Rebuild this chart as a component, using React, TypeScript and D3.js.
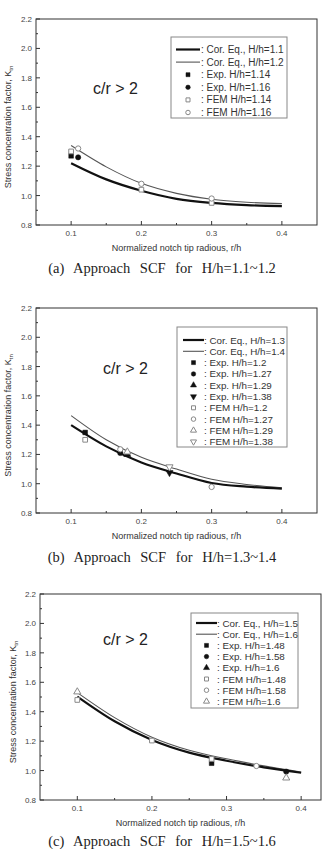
import React from "react";
import * as d3 from "d3";

// shared axis ticks
const xTicks = [0.1, 0.2, 0.3, 0.4];
const xMinor = [0.15, 0.25, 0.35];
const yTicks = [0.8, 1.0, 1.2, 1.4, 1.6, 1.8, 2.0, 2.2];
const yMinor = [0.9, 1.1, 1.3, 1.5, 1.7, 1.9, 2.1];
const curveX = [0.1, 0.15, 0.2, 0.25, 0.3, 0.35, 0.4];

// (a) H/h = 1.1 ~ 1.2
const aCorThick = [1.22, 1.11, 1.033, 0.978, 0.95, 0.935, 0.928];
const aCorThin = [1.34, 1.195, 1.083, 1.015, 0.975, 0.955, 0.945];
const aExp114: [number, number][] = [[0.1, 1.27]];
const aExp116: [number, number][] = [[0.11, 1.26]];
const aFem114: [number, number][] = [[0.1, 1.3], [0.2, 1.04], [0.3, 0.95]];
const aFem116: [number, number][] = [[0.11, 1.32], [0.2, 1.08], [0.3, 0.98]];
const aLabels = [": Cor. Eq., H/h=1.1", ": Cor. Eq., H/h=1.2", ": Exp. H/h=1.14", ": Exp. H/h=1.16", ": FEM H/h=1.14", ": FEM H/h=1.16"];

// (b) H/h = 1.3 ~ 1.4
const bCorThick = [1.4, 1.255, 1.145, 1.07, 1.005, 0.98, 0.967];
const bCorThin = [1.465, 1.3, 1.18, 1.1, 1.03, 0.995, 0.972];
const bExp12: [number, number][] = [[0.12, 1.35]];
const bExp127: [number, number][] = [[0.17, 1.21]];
const bExp129: [number, number][] = [[0.18, 1.2]];
const bExp138: [number, number][] = [[0.24, 1.076]];
const bFem12: [number, number][] = [[0.12, 1.3]];
const bFem127: [number, number][] = [[0.17, 1.235], [0.3, 0.978]];
const bFem129: [number, number][] = [[0.18, 1.217]];
const bFem138: [number, number][] = [[0.24, 1.115]];
const bLabels = [": Cor. Eq., H/h=1.3", ": Cor. Eq., H/h=1.4", ": Exp. H/h=1.2", ": Exp. H/h=1.27", ": Exp. H/h=1.29", ": Exp. H/h=1.38", ": FEM H/h=1.2", ": FEM H/h=1.27", ": FEM H/h=1.29", ": FEM H/h=1.38"];

// (c) H/h = 1.5 ~ 1.6
const cCorThick = [1.503, 1.335, 1.208, 1.122, 1.067, 1.022, 0.985];
const cCorThin = [1.53, 1.36, 1.227, 1.138, 1.08, 1.032, 0.99];
const cExp148: [number, number][] = [[0.28, 1.05]];
const cExp158: [number, number][] = [[0.38, 0.993]];
const cExp16: [number, number][] = [];
const cFem148: [number, number][] = [[0.1, 1.48], [0.2, 1.204], [0.28, 1.079]];
const cFem158: [number, number][] = [[0.34, 1.031]];
const cFem16: [number, number][] = [[0.1, 1.535], [0.38, 0.95]];
const cLabels = [": Cor. Eq., H/h=1.5", ": Cor. Eq., H/h=1.6", ": Exp. H/h=1.48", ": Exp. H/h=1.58", ": Exp. H/h=1.6", ": FEM H/h=1.48", ": FEM H/h=1.58", ": FEM H/h=1.6"];

const captions = ["(a) Approach SCF for H/h=1.1~1.2", "(b) Approach SCF for H/h=1.3~1.4", "(c) Approach SCF for H/h=1.5~1.6"];

type Shape = "square" | "circle" | "triangle" | "down";
type PointSeries = { pts: [number, number][]; shape: Shape; filled: boolean };

const SANS = "Arial, 'Liberation Sans', Helvetica, sans-serif";
const INK = "#333";

const symbolPath = (shape: Shape, size: number) => {
  const type = shape === "square" ? d3.symbolSquare : shape === "circle" ? d3.symbolCircle : d3.symbolTriangle;
  return d3.symbol().type(type).size(size)() as string;
};

const Marker = ({ x, y, shape, filled, size = 22 }: { x: number; y: number; shape: Shape; filled: boolean; size?: number }) => (
  <path
    d={symbolPath(shape, size)}
    transform={`translate(${x},${y})${shape === "down" ? " rotate(180)" : ""}`}
    fill={filled ? "#111" : "#fff"}
    stroke={filled ? "#111" : "#888"}
    strokeWidth={filled ? 0.5 : 1}
  />
);

const Panel = ({ frame, xMax, thick, thin, series, labels, legend, cr, caption, captionY, yLabelX }: any) => {
  const x = d3.scaleLinear().domain([0.05, xMax]).range([frame.left, frame.right]);
  const y = d3.scaleLinear().domain([0.8, 2.2]).range([frame.bottom, frame.top]);
  const line = d3
    .line<number>()
    .x((_, i) => x(curveX[i]))
    .y((d) => y(d))
    .curve(d3.curveMonotoneX);
  const cx = (frame.left + frame.right) / 2;
  const cy = (frame.top + frame.bottom) / 2 + 5;

  return (
    <g>
      <path d={line(thin) || ""} fill="none" stroke="#555" strokeWidth={1.1} />
      <path d={line(thick) || ""} fill="none" stroke="#111" strokeWidth={2.2} />
      {series.map((s: PointSeries, i: number) =>
        s.pts.map((p, j) => <Marker key={`${i}-${j}`} x={x(p[0])} y={y(p[1])} shape={s.shape} filled={s.filled} />)
      )}

      {/* frame and ticks */}
      <rect x={frame.left} y={frame.top} width={frame.right - frame.left} height={frame.bottom - frame.top} fill="none" stroke={INK} strokeWidth={1} />
      {xTicks.map((t) => (
        <g key={`xt${t}`}>
          <line x1={x(t)} x2={x(t)} y1={frame.bottom} y2={frame.bottom - 4} stroke={INK} />
          <text x={x(t)} y={frame.bottom + 11} fontSize={8} fill="#444" textAnchor="middle" fontFamily={SANS}>
            {d3.format(".1f")(t)}
          </text>
        </g>
      ))}
      {xMinor.map((t) => (
        <line key={`xm${t}`} x1={x(t)} x2={x(t)} y1={frame.bottom} y2={frame.bottom - 2} stroke={INK} />
      ))}
      {yTicks.map((t) => (
        <g key={`yt${t}`}>
          <line x1={frame.left} x2={frame.left + 4} y1={y(t)} y2={y(t)} stroke={INK} />
          <text x={frame.left - 4} y={y(t) + 3} fontSize={8} fill="#444" textAnchor="end" fontFamily={SANS}>
            {d3.format(".1f")(t)}
          </text>
        </g>
      ))}
      {yMinor.map((t) => (
        <line key={`ym${t}`} x1={frame.left} x2={frame.left + 2} y1={y(t)} y2={y(t)} stroke={INK} />
      ))}

      <text x={cx} y={frame.bottom + 26} fontSize={9} fill={INK} textAnchor="middle" fontFamily={SANS}>
        Normalized notch tip radious, r/h
      </text>
      <text transform={`translate(${yLabelX},${cy}) rotate(-90)`} fontSize={9} fill={INK} textAnchor="middle" fontFamily={SANS}>
        Stress concentration factor, K
        <tspan fontSize={6} dy={2}>tn</tspan>
      </text>

      <text x={cr.x} y={cr.y} fontSize={16} fill="#222" fontFamily={SANS}>
        c/r &gt; 2
      </text>

      {/* legend */}
      <rect x={legend.x} y={legend.y} width={legend.w} height={legend.h} fill="#fff" stroke="#888" strokeWidth={1} />
      {labels.map((lab: string, i: number) => {
        const ry = legend.row0 + i * legend.step;
        let sample: React.ReactNode = null;
        if (i === 0) sample = <line x1={legend.l0} x2={legend.l1} y1={ry} y2={ry} stroke="#111" strokeWidth={2.2} />;
        else if (i === 1) sample = <line x1={legend.l0} x2={legend.l1} y1={ry} y2={ry} stroke="#555" strokeWidth={1.1} />;
        else {
          const s = series[i - 2];
          sample = <Marker x={(legend.l0 + legend.l1) / 2} y={ry} shape={s.shape} filled={s.filled} size={16} />;
        }
        return (
          <g key={lab}>
            {sample}
            <text x={legend.tx} y={ry + 3.5} fontSize={legend.fs} fill={INK} fontFamily={SANS}>
              {lab}
            </text>
          </g>
        );
      })}

      <text
        x={162}
        y={captionY}
        fontSize={14.5}
        fill="#222"
        textAnchor="middle"
        wordSpacing={6}
        fontFamily="'Liberation Serif', 'Times New Roman', serif"
      >
        {caption}
      </text>
    </g>
  );
};

const App = () => {
  const seriesA: PointSeries[] = [
    { pts: aExp114, shape: "square", filled: true },
    { pts: aExp116, shape: "circle", filled: true },
    { pts: aFem114, shape: "square", filled: false },
    { pts: aFem116, shape: "circle", filled: false },
  ];
  const seriesB: PointSeries[] = [
    { pts: bExp12, shape: "square", filled: true },
    { pts: bExp127, shape: "circle", filled: true },
    { pts: bExp129, shape: "triangle", filled: true },
    { pts: bExp138, shape: "down", filled: true },
    { pts: bFem12, shape: "square", filled: false },
    { pts: bFem127, shape: "circle", filled: false },
    { pts: bFem129, shape: "triangle", filled: false },
    { pts: bFem138, shape: "down", filled: false },
  ];
  const seriesC: PointSeries[] = [
    { pts: cExp148, shape: "square", filled: true },
    { pts: cExp158, shape: "circle", filled: true },
    { pts: cExp16, shape: "triangle", filled: true },
    { pts: cFem148, shape: "square", filled: false },
    { pts: cFem158, shape: "circle", filled: false },
    { pts: cFem16, shape: "triangle", filled: false },
  ];

  return (
    <div style={{ position: "absolute", left: 0, top: 0 }}>
      <svg width={328} height={849} style={{ display: "block", background: "#fff" }}>
        <Panel
          frame={{ left: 36, right: 317, top: 19, bottom: 225 }}
          xMax={0.45}
          thick={aCorThick}
          thin={aCorThin}
          series={seriesA}
          labels={aLabels}
          legend={{ x: 171, y: 37, w: 116, h: 81, row0: 49.5, step: 12.6, l0: 176, l1: 200, tx: 201, fs: 10 }}
          cr={{ x: 93, y: 94 }}
          caption={captions[0]}
          captionY={273}
          yLabelX={11}
        />
        <Panel
          frame={{ left: 36, right: 317, top: 308, bottom: 513 }}
          xMax={0.45}
          thick={bCorThick}
          thin={bCorThin}
          series={seriesB}
          labels={bLabels}
          legend={{ x: 177, y: 327, w: 110, h: 120, row0: 340, step: 11.3, l0: 183, l1: 204, tx: 204, fs: 9.8 }}
          cr={{ x: 103, y: 374 }}
          caption={captions[1]}
          captionY={562}
          yLabelX={11}
        />
        <Panel
          frame={{ left: 40, right: 321, top: 594, bottom: 800 }}
          xMax={0.4266}
          thick={cCorThick}
          thin={cCorThin}
          series={seriesC}
          labels={cLabels}
          legend={{ x: 191, y: 613, w: 107, h: 95, row0: 623, step: 11.2, l0: 196, l1: 217, tx: 217, fs: 9.8 }}
          cr={{ x: 103, y: 645 }}
          caption={captions[2]}
          captionY={846}
          yLabelX={16}
        />
      </svg>
    </div>
  );
};

export default App;
